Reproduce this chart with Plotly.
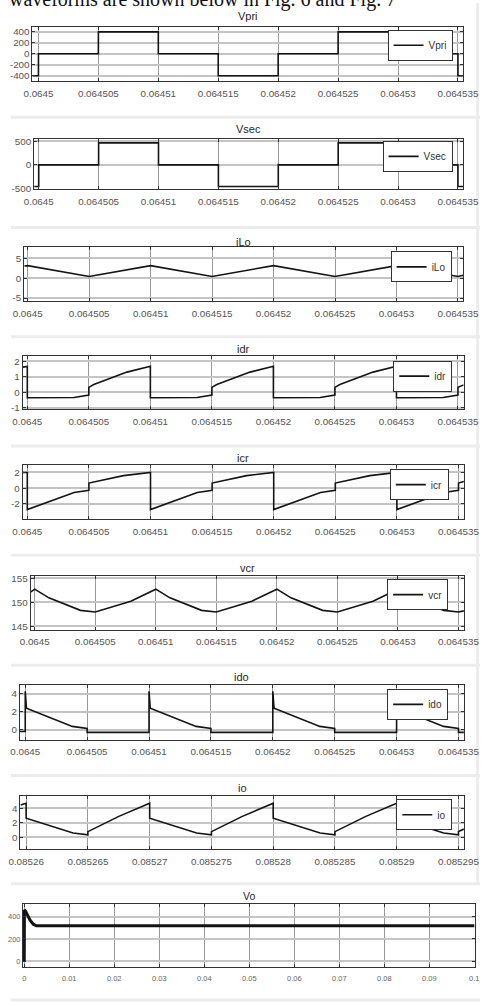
import plotly.graph_objects as go

W, H = 496, 1006

# ---------------- data ----------------
# time values are given in microseconds after the first labelled tick
T0_A = 0.0645     # Vpri ... ido panels
T0_B = 0.08526    # io panel

vpri_us = [-0.5, 0, 0, 5, 5, 10, 10, 15, 15, 20, 20, 25, 25, 30, 30, 35, 35, 35.42]
vpri_v = [-400, -400, 0, 0, 400, 400, 0, 0, -400, -400, 0, 0, 400, 400, 0, 0, -400, -400]

vsec_us = [-0.38, 0, 0, 5, 5, 10, 10, 15, 15, 20, 20, 25, 25, 30, 30, 35, 35, 35.42]
vsec_v = [-460, -460, 0, 0, 468, 468, 0, 0, -460, -460, 0, 0, 468, 468, 0, 0, -460, -460]

ilo_us = [-0.28, 0, 5, 10, 15, 20, 25, 30, 35, 35.43]
ilo_v = [3.1, 3.2, 0.45, 3.2, 0.45, 3.2, 0.45, 3.2, 0.45, 0.75]

idr_us = [-0.38, 0, 0, 3.8, 5, 5, 5.4, 8.1, 10, 10, 13.8, 15, 15, 15.4, 18.1, 20,
          20, 23.8, 25, 25, 25.4, 28.1, 30, 30, 33.8, 35, 35, 35.46]
idr_v = [1.62, 1.67, -0.35, -0.33, -0.17, 0.32, 0.5, 1.3, 1.67, -0.35, -0.33, -0.17, 0.32, 0.5, 1.3, 1.67,
         -0.35, -0.33, -0.17, 0.32, 0.5, 1.3, 1.67, -0.35, -0.33, -0.17, 0.32, 0.48]

icr_us = [-0.38, 0, 0, 3.8, 5, 5, 7.8, 10, 10, 13.8, 15, 15, 17.8, 20, 20, 23.8, 25, 25, 27.8, 30,
          30, 33.8, 35, 35, 35.44]
icr_v = [2.0, 2.0, -2.75, -0.55, -0.28, 0.65, 1.6, 2.02, -2.75, -0.55, -0.28, 0.65, 1.6, 2.02,
         -2.75, -0.55, -0.28, 0.65, 1.6, 2.02, -2.75, -0.55, -0.28, 0.65, 0.85]

vcr_us = [-0.34, 0, 1.17, 3.78, 5, 7.94, 10, 11.17, 13.78, 15, 17.94, 20, 21.17, 23.78, 25, 27.94,
          30, 31.17, 33.78, 35, 35.45]
vcr_v = [152.1, 152.7, 150.9, 148.3, 147.95, 150.2, 152.7, 150.9, 148.3, 147.95, 150.2, 152.7,
         150.9, 148.3, 147.95, 150.2, 152.7, 150.9, 148.3, 147.95, 148.2]

ido_us = [-0.44, 0, 0, 0.1, 3.8, 5, 5, 10, 10, 10.1, 13.8, 15, 15, 20, 20, 20.1, 23.8, 25, 25,
          30, 30, 30.1, 33.8, 35, 35, 35.44]
ido_v = [-0.2, -0.2, 4.3, 2.4, 0.37, 0.15, -0.3, -0.3, 4.3, 2.4, 0.37, 0.15, -0.3, -0.3, 4.3, 2.4,
         0.37, 0.15, -0.3, -0.3, 4.3, 2.4, 0.37, 0.15, -0.3, -0.3]

io_us = [-0.46, 0, 0, 3.8, 5, 5, 7.5, 10, 10, 13.8, 15, 15, 17.5, 20, 20, 23.8, 25, 25, 27.5, 30,
         30, 33.8, 35, 35, 35.44]
io_v = [4.45, 4.7, 2.65, 0.6, 0.35, 0.8, 2.9, 4.7, 2.65, 0.6, 0.35, 0.8, 2.9, 4.7, 2.65, 0.6,
        0.35, 0.8, 2.9, 4.7, 2.65, 0.6, 0.35, 0.8, 1.15]

vo_t = [0, 0.00005, 0.0003, 0.0008, 0.00126, 0.002, 0.0027, 0.1]
vo_v = [0, 460, 450, 410, 371, 332, 318, 318]

xtick_a = [0.0645, 0.064505, 0.06451, 0.064515, 0.06452, 0.064525, 0.06453, 0.064535]
xtick_a_text = ["0.0645", "0.064505", "0.06451", "0.064515", "0.06452", "0.064525", "0.06453", "0.064535"]
xtick_b = [0.08526, 0.085265, 0.08527, 0.085275, 0.08528, 0.085285, 0.08529, 0.085295]
xtick_b_text = ["0.08526", "0.085265", "0.08527", "0.085275", "0.08528", "0.085285", "0.08529", "0.085295"]
xtick_vo = [0, 0.01, 0.02, 0.03, 0.04, 0.05, 0.06, 0.07, 0.08, 0.09, 0.1]
xtick_vo_text = ["0", "0.01", "0.02", "0.03", "0.04", "0.05", "0.06", "0.07", "0.08", "0.09", "0.1"]

ytick_vpri = [-400, -200, 0, 200, 400]
ytick_vsec = [-500, 0, 500]
ytick_ilo = [-5, 0, 5]
ytick_idr = [-1, 0, 1, 2]
ytick_icr = [-2, 0, 2]
ytick_vcr = [145, 150, 155]
ytick_ido = [0, 2, 4]
ytick_io = [0, 2, 4]
ytick_vo = [0, 200, 400]


def ta(us):
    return [T0_A + u * 1e-6 for u in us]


def tb(us):
    return [T0_B + u * 1e-6 for u in us]


def ylabels(vals):
    return [("-" + str(abs(v))) if v < 0 else str(v) for v in vals]


# ---------------- layout description (pixels) ----------------
panels = [
    dict(name="Vpri", x=ta(vpri_us), y=vpri_v, box=(22.7, 478, 24, 79), xr=(-0.5, 35.42), t0=T0_A,
         yr=(-504, 491), xt=xtick_a, xtt=xtick_a_text, yt=ytick_vpri, ty=13, leg=(467, 42.5)),
    dict(name="Vsec", x=ta(vsec_us), y=vsec_v, box=(24.5, 478, 136.7, 187.7), xr=(-0.38, 35.42), t0=T0_A,
         yr=(-521, 555), xt=xtick_a, xtt=xtick_a_text, yt=ytick_vsec, ty=127, leg=(467, 154.5)),
    dict(name="iLo", x=ta(ilo_us), y=ilo_v, box=(14, 478.3, 245.7, 300.3), xr=(-0.28, 35.43), t0=T0_A,
         yr=(-5.8, 7.9), xt=xtick_a, xtt=xtick_a_text, yt=ytick_ilo, ty=240.7, leg=(466, 265.7)),
    dict(name="idr", x=ta(idr_us), y=idr_v, box=(12.3, 478.7, 355.7, 409), xr=(-0.38, 35.46), t0=T0_A,
         yr=(-1.08, 2.32), xt=xtick_a, xtt=xtick_a_text, yt=ytick_idr, ty=348.3, leg=(466.7, 375.7)),
    dict(name="icr", x=ta(icr_us), y=icr_v, box=(12.3, 479, 465.7, 520), xr=(-0.38, 35.44), t0=T0_A,
         yr=(-4.0, 2.9), xt=xtick_a, xtt=xtick_a_text, yt=ytick_icr, ty=458.3, leg=(463, 485)),
    dict(name="vcr", x=ta(vcr_us), y=vcr_v, box=(20.7, 479, 576.7, 631), xr=(-0.34, 35.45), t0=T0_A,
         yr=(144.3, 155.5), xt=xtick_a, xtt=xtick_a_text, yt=ytick_vcr, ty=569, leg=(462.3, 595.8)),
    dict(name="ido", x=ta(ido_us), y=ido_v, box=(9.3, 479, 686.7, 741.7), xr=(-0.44, 35.44), t0=T0_A,
         yr=(-1.1, 5.0), xt=xtick_a, xtt=xtick_a_text, yt=ytick_ido, ty=679, leg=(462.3, 706.3)),
    dict(name="io", x=tb(io_us), y=io_v, box=(10, 479, 799, 852.3), xr=(-0.46, 35.44), t0=T0_B,
         yr=(-1.64, 5.64), xt=xtick_b, xtt=xtick_b_text, yt=ytick_io, ty=790, leg=(466.7, 817.5)),
    dict(name="Vo", x=vo_t, y=vo_v, box=(12.7, 490.7, 907.3, 971), xr=None, t0=None,
         yr=(-53, 513), xt=xtick_vo, xtt=xtick_vo_text, yt=ytick_vo, ty=899, leg=None),
]

FONT = "Liberation Sans, Arial, sans-serif"
fig = go.Figure()
layout = dict(
    width=W, height=H, margin=dict(l=0, r=0, t=0, b=0),
    paper_bgcolor="white", plot_bgcolor="white",
    font=dict(family=FONT, size=10, color="#333333"),
    annotations=[], shapes=[],
)

for i, p in enumerate(panels, start=1):
    sfx = "" if i == 1 else str(i)
    L, R, T, B = p["box"]
    is_vo = p["name"] == "Vo"
    legname = "legend" if i == 1 else f"legend{i}"
    fig.add_trace(go.Scatter(
        x=p["x"], y=p["y"], mode="lines", name=p["name"],
        line=dict(color="#141414", width=3 if is_vo else 1.6),
        xaxis="x" + sfx, yaxis="y" + sfx,
        showlegend=not is_vo, legend=legname if not is_vo else None,
    ))
    if is_vo:
        xr = [-0.00027, 0.10015]
    else:
        xr = [p["t0"] + p["xr"][0] * 1e-6, p["t0"] + p["xr"][1] * 1e-6]
    tfs = 7.5 if is_vo else 9.8
    tcol = "#555555" if not is_vo else "#666666"
    layout["xaxis" + sfx] = dict(
        domain=[L / W, R / W], anchor="y" + sfx, range=xr,
        tickvals=p["xt"], ticktext=p["xtt"], ticks="inside", ticklen=3, tickcolor="#333333",
        showline=True, linecolor="#333333", linewidth=1, mirror="ticks",
        showgrid=True, gridcolor="#9a9a9a", gridwidth=1, zeroline=False,
        tickfont=dict(size=tfs, color=tcol), ticklabelstandoff=3 if not is_vo else 4,
    )
    layout["yaxis" + sfx] = dict(
        domain=[1 - B / H, 1 - T / H], anchor="x" + sfx, range=list(p["yr"]),
        tickvals=p["yt"], ticktext=ylabels(p["yt"]), ticks="inside", ticklen=3, tickcolor="#333333",
        showline=True, linecolor="#333333", linewidth=1, mirror="ticks",
        showgrid=True, gridcolor="#c4c4c4", gridwidth=1.5, zeroline=False,
        tickfont=dict(size=tfs, color=tcol),
    )
    layout["annotations"].append(dict(
        text=p["name"], xref="paper", yref="paper", x=(L + R) / 2 / W, y=1 - p["ty"] / H,
        xanchor="center", yanchor="middle", showarrow=False,
        font=dict(size=10.5 if is_vo else 11, color="#262626", family=FONT),
    ))
    if p["leg"] is not None:
        lx, ly = p["leg"]
        layout[legname] = dict(
            x=lx / W, y=1 - ly / H, xanchor="right", yanchor="middle",
            bgcolor="white", bordercolor="#333333", borderwidth=1,
            font=dict(size=10, color="#333333", family=FONT), itemwidth=30,
            tracegroupgap=0,
        )

# page separators of the screenshot (light grey bands)
for yb in [115, 226, 336, 446, 556, 667, 778, 887, 1004]:
    layout["shapes"].append(dict(type="rect", xref="paper", yref="paper", x0=0, x1=1,
                                 y0=1 - (yb + 1.5) / H, y1=1 - (yb - 1.5) / H,
                                 fillcolor="#ececec", line=dict(width=0), layer="below"))
layout["shapes"].append(dict(type="rect", xref="paper", yref="paper", x0=492 / W, x1=495 / W,
                             y0=1 - 887 / H, y1=1, fillcolor="#ececec", line=dict(width=0), layer="below"))

# partially visible sentence at the top of the page
layout["annotations"].append(dict(
    text="waveforms are shown below in Fig. 6 and Fig. 7", xref="paper", yref="paper",
    x=-4 / W, y=1 + 3.5 / H, xanchor="left", yanchor="middle", showarrow=False,
    font=dict(size=20, color="#111111", family="Liberation Serif, Times New Roman, serif"),
))

fig.update_layout(**layout)
fig.write_html("out.html")
